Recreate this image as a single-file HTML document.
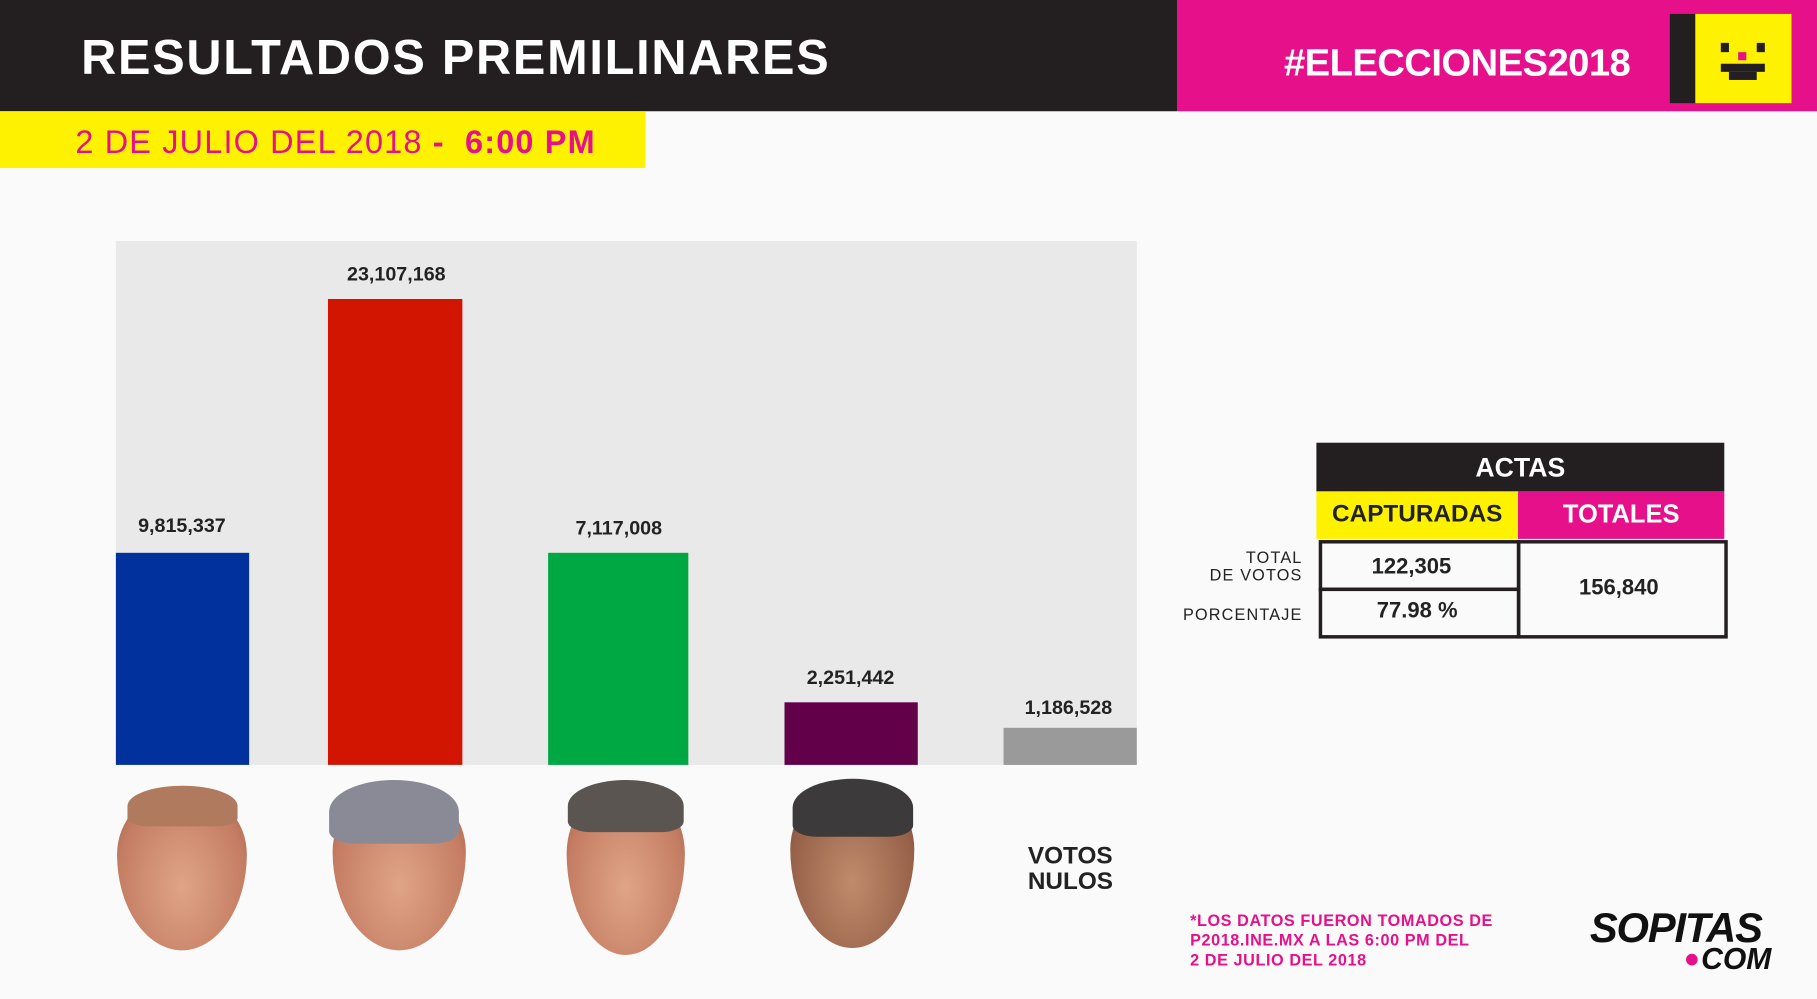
<!DOCTYPE html>
<html><head><meta charset="utf-8"><style>
html,body{margin:0;padding:0;width:1817px;height:999px;overflow:hidden;background:#fafafa}
#s{position:absolute;left:0;top:0;width:1568px;height:862px;transform:scale(1.15880,1.15893);transform-origin:0 0;font-family:"Liberation Sans",sans-serif;background:#fafafa}
.a{position:absolute}
.b{font-weight:bold}
.lbl{position:absolute;font-weight:bold;font-size:17px;color:#222;text-align:center;width:160px}
.face{position:absolute;border-radius:48% 48% 50% 50%/40% 40% 60% 60%;background:radial-gradient(ellipse at 50% 60%,#e0a487,#c47d62 70%,#9a5b45)}
.hair{position:absolute;border-radius:50% 50% 20% 20%}
</style></head><body><div id="s">
<div class="a" style="left:0;top:0;width:1016px;height:96px;background:#231f20"></div>
<div class="a b" style="left:70px;top:26px;font-size:42px;color:#fff;letter-spacing:1.5px">RESULTADOS PREMILINARES</div>
<div class="a" style="left:1016px;top:0;width:552px;height:96px;background:#e6118a"></div>
<div class="a b" style="left:1108px;top:35px;font-size:33px;color:#fff;letter-spacing:-0.5px">#ELECCIONES2018</div>
<div class="a" style="left:1441px;top:12px;width:22px;height:77px;background:#231f20"></div>
<div class="a" style="left:1463px;top:12px;width:83px;height:77px;background:#fff200"></div>
<div class="a" style="left:1485px;top:37px;width:7px;height:8px;background:#231f20"></div>
<div class="a" style="left:1516px;top:37px;width:7px;height:8px;background:#231f20"></div>
<div class="a" style="left:1500px;top:45px;width:7px;height:7px;background:#e6118a"></div>
<div class="a" style="left:1485px;top:55px;width:38px;height:7px;background:#231f20"></div>
<div class="a" style="left:1492px;top:62px;width:24px;height:7px;background:#231f20"></div>
<div class="a" style="left:0;top:96px;width:557px;height:49px;background:#fff200"></div>
<div class="a" style="left:65px;top:107px;font-size:28px;color:#e6118a;white-space:nowrap;letter-spacing:1px">2 DE JULIO DEL 2018 <b>- &nbsp;6:00 PM</b></div>

<div class="a" style="left:100px;top:208px;width:881px;height:452px;background:#e9e9e9"></div>
<div class="a" style="left:100px;top:477px;width:115px;height:183px;background:#00319c"></div>
<div class="a" style="left:283px;top:258px;width:116px;height:402px;background:#d11500"></div>
<div class="a" style="left:473px;top:477px;width:121px;height:183px;background:#00a843"></div>
<div class="a" style="left:677px;top:606px;width:115px;height:54px;background:#62004a"></div>
<div class="a" style="left:866px;top:628px;width:115px;height:32px;background:#9a9a9a"></div>
<div class="lbl" style="left:77px;top:444px">9,815,337</div>
<div class="lbl" style="left:262px;top:227px">23,107,168</div>
<div class="lbl" style="left:454px;top:446px">7,117,008</div>
<div class="lbl" style="left:654px;top:575px">2,251,442</div>
<div class="lbl" style="left:842px;top:601px">1,186,528</div>

<div class="face" style="left:101px;top:682px;width:112px;height:138px"></div>
<div class="hair" style="left:110px;top:678px;width:95px;height:35px;background:#b07a5e"></div>
<div class="face" style="left:287px;top:678px;width:115px;height:142px"></div>
<div class="hair" style="left:284px;top:673px;width:112px;height:55px;background:#8a8a96"></div>
<div class="face" style="left:489px;top:678px;width:102px;height:146px"></div>
<div class="hair" style="left:490px;top:673px;width:100px;height:45px;background:#5a5550"></div>
<div class="face" style="left:682px;top:676px;width:107px;height:142px;background:radial-gradient(ellipse at 50% 60%,#c08a6c,#98624a 70%,#6e4535)"></div>
<div class="hair" style="left:684px;top:672px;width:104px;height:50px;background:#3c3a3a"></div>
<div class="a b" style="left:887px;top:728px;font-size:21px;color:#222;line-height:22px">VOTOS<br>NULOS</div>

<div class="a" style="left:1136px;top:382px;width:352px;height:42px;background:#231f20"></div>
<div class="a b" style="left:1136px;top:390px;width:352px;text-align:center;font-size:23px;color:#fff">ACTAS</div>
<div class="a" style="left:1136px;top:424px;width:174px;height:41px;background:#fff200"></div>
<div class="a b" style="left:1136px;top:432px;width:174px;text-align:center;font-size:21px;color:#222">CAPTURADAS</div>
<div class="a" style="left:1310px;top:424px;width:178px;height:41px;background:#e6118a"></div>
<div class="a b" style="left:1310px;top:431px;width:178px;text-align:center;font-size:22px;color:#fff">TOTALES</div>
<div class="a" style="left:1138px;top:466px;width:168px;height:38px;border:3px solid #231f20"></div>
<div class="a" style="left:1138px;top:507px;width:168px;height:38px;border:3px solid #231f20"></div>
<div class="a" style="left:1309px;top:466px;width:176px;height:79px;border:3px solid #231f20"></div>
<div class="a b" style="left:1141px;top:479px;width:154px;text-align:center;font-size:19px;color:#222">122,305</div>
<div class="a b" style="left:1141px;top:517px;width:164px;text-align:center;font-size:19px;color:#222">77.98 %</div>
<div class="a b" style="left:1312px;top:497px;width:170px;text-align:center;font-size:19px;color:#222">156,840</div>
<div class="a" style="left:1000px;top:474px;width:124px;text-align:right;font-size:14px;color:#222;line-height:15px;letter-spacing:1px">TOTAL<br>DE VOTOS</div>
<div class="a" style="left:990px;top:522px;width:134px;text-align:right;font-size:14px;color:#222;letter-spacing:1px">PORCENTAJE</div>

<div class="a b" style="left:1027px;top:786px;font-size:14px;color:#e6118a;line-height:17px;letter-spacing:.5px">*LOS DATOS FUERON TOMADOS DE<br>P2018.INE.MX A LAS 6:00 PM DEL<br>2 DE JULIO DEL 2018</div>
<div class="a b" style="left:1372px;top:780px;font-size:36px;color:#111;letter-spacing:-1px;font-style:italic">SOPITAS</div>
<div class="a" style="left:1455px;top:823px;width:10px;height:10px;border-radius:50%;background:#e6118a"></div>
<div class="a b" style="left:1468px;top:812px;font-size:26px;color:#111;font-style:italic">COM</div>
</div></body></html>
